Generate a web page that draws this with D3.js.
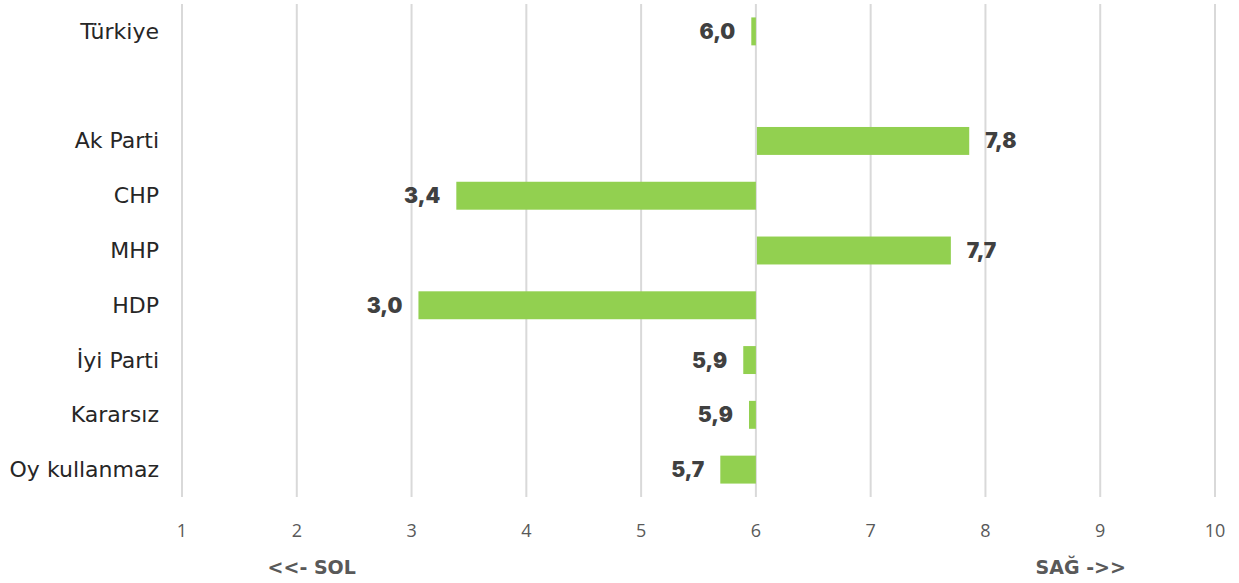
<!DOCTYPE html>
<html><head><meta charset="utf-8">
<script src="https://cdn.jsdelivr.net/npm/d3@7"></script>
<style>body{margin:0;background:#fff}</style>
</head><body>
<svg id="c" width="1239" height="583"></svg>
<script>
const categories = ["Türkiye", "", "Ak Parti", "CHP", "MHP", "HDP", "İyi Parti", "Kararsız", "Oy kullanmaz"];
const values = [5.96, null, 7.85, 3.39, 7.69, 3.06, 5.89, 5.94, 5.69];
const valueLabels = ["6,0", "", "7,8", "3,4", "7,7", "3,0", "5,9", "5,9", "5,7"];
const ticks = [1, 2, 3, 4, 5, 6, 7, 8, 9, 10];
const baseline = 6;
const axisLabels = [{text: "<<- SOL", at: 2.13}, {text: "SAĞ ->>", at: 8.83}];

const svg = d3.select("#c");
const x = d3.scaleLinear().domain([1, 10]).range([182, 1215]);
const y = d3.scaleBand().domain(categories.map((c, i) => i)).range([4, 497]).paddingInner(0.49).paddingOuter(0.245);

// gridlines
svg.append("g").selectAll("line").data(ticks).join("line")
  .attr("x1", d => x(d)).attr("x2", d => x(d))
  .attr("y1", 4).attr("y2", 497)
  .attr("stroke", "#d9d9d9").attr("stroke-width", 2);

// tick labels
svg.append("g").selectAll("text").data(ticks).join("text")
  .attr("x", d => x(d)).attr("y", 537)
  .attr("text-anchor", "middle")
  .attr("font-family", "'Open Sans', 'Noto Sans', sans-serif")
  .attr("font-size", 18).attr("fill", "#595959")
  .text(d => d);

const data = categories.map((c, i) => ({c, i, v: values[i], l: valueLabels[i]})).filter(d => d.v !== null);

// bars
svg.append("g").selectAll("rect").data(data).join("rect")
  .attr("x", d => Math.min(x(d.v), x(baseline) + (d.v >= baseline ? 1 : 0)))
  .attr("width", d => Math.abs(x(d.v) - x(baseline)))
  .attr("y", d => y(d.i))
  .attr("height", y.bandwidth())
  .attr("fill", "#92d050");

// value labels
svg.append("g").selectAll("text").data(data).join("text")
  .attr("x", d => d.v >= baseline ? x(d.v) + 17 : x(d.v) - 16)
  .attr("y", d => y(d.i) + y.bandwidth() / 2 + 7.5)
  .attr("text-anchor", d => d.v >= baseline ? "start" : "end")
  .attr("font-family", "Inter, 'DejaVu Sans', sans-serif")
  .attr("font-weight", 900)
  .attr("font-size", 21).attr("fill", "#404040")
  .text(d => d.l);

// category labels
svg.append("g").selectAll("text").data(categories.map((c, i) => ({c, i}))).join("text")
  .attr("x", 159)
  .attr("y", d => y(d.i) + y.bandwidth() / 2 + 7.5)
  .attr("text-anchor", "end")
  .attr("font-family", "'DejaVu Sans', sans-serif")
  .attr("font-size", 22).attr("fill", "#262626")
  .text(d => d.c);

// direction labels
svg.append("g").selectAll("text").data(axisLabels).join("text")
  .attr("x", d => x(d.at)).attr("y", 574)
  .attr("text-anchor", "middle")
  .attr("font-family", "'DejaVu Sans', sans-serif")
  .attr("font-weight", 700)
  .attr("font-size", 19).attr("fill", "#595959")
  .text(d => d.text);
</script>
</body></html>
